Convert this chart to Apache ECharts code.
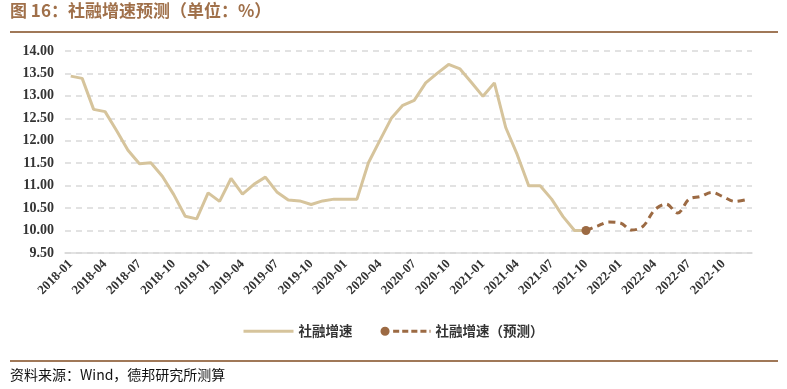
<!DOCTYPE html>
<html><head><meta charset="utf-8">
<script src="https://cdn.jsdelivr.net/npm/echarts@6/dist/echarts.min.js"></script>
<style>html,body{margin:0;padding:0;background:#fff}#c{width:787px;height:389px}</style>
</head><body><div id="c"></div>
<script>
var categories = [];
for (var y = 2018; y <= 2022; y++) { for (var m = 1; m <= 12; m++) { categories.push(y + '-' + (m < 10 ? '0' + m : m)); } }
var actualValues = [13.44,13.39,12.70,12.65,12.23,11.79,11.49,11.51,11.21,10.80,10.32,10.26,10.84,10.65,11.16,10.81,11.03,11.19,10.86,10.68,10.66,10.58,10.66,10.70,10.70,10.70,11.51,12.01,12.50,12.79,12.90,13.29,13.50,13.70,13.60,13.30,12.99,13.29,12.29,11.69,11.00,11.00,10.70,10.31,10.00,10.00];
var forecastStart = 45;
var forecastValues = [10.00,10.10,10.19,10.17,10.01,10.10,10.46,10.59,10.39,10.70,10.76,10.85,10.75,10.65,10.69];
var seriesNames = ['社融增速', '社融增速（预测）'];
var titleText = '图 16：社融增速预测（单位：%）';
var sourceText = '资料来源：Wind，德邦研究所测算';

var s1 = categories.map(function (c, i) { return i < actualValues.length ? actualValues[i] : null; });
var s2 = categories.map(function (c, i) {
  if (i < forecastStart) return null;
  var v = forecastValues[i - forecastStart];
  return i === forecastStart ? { value: v, symbol: 'circle', symbolSize: 9 } : { value: v, symbol: 'none' };
});

var solidIcon = 'path://M0,3.5 L50,3.5 L50,6.5 L0,6.5 Z';
var dashIcon = 'path://M0.5,5 A4.5,4.5 0 1,0 9.5,5 A4.5,4.5 0 1,0 0.5,5 Z M13,3.5 L19,3.5 L19,6.5 L13,6.5 Z M22,3.5 L28,3.5 L28,6.5 L22,6.5 Z M31,3.5 L37,3.5 L37,6.5 L31,6.5 Z M40,3.5 L46,3.5 L46,6.5 L40,6.5 Z M49,3.5 L50,3.5 L50,6.5 L49,6.5 Z';

var chart = echarts.init(document.getElementById('c'));
chart.setOption({
  animation: false,
  grid: { left: 65, right: 35, top: 51, bottom: 136 },
  graphic: [
    { type: 'text', left: 10, top: 2, style: { text: titleText, fill: '#a0704a', font: 'bold 17px "Noto Sans CJK SC"' } },
    { type: 'rect', shape: { x: 10, y: 31, width: 768, height: 2 }, style: { fill: '#a07858' } },
    { type: 'rect', shape: { x: 10, y: 360, width: 768, height: 2 }, style: { fill: '#a07858' } },
    { type: 'text', left: 10, top: 368, style: { text: sourceText, fill: '#111', font: '14px "Noto Sans CJK SC"' } }
  ],
  legend: {
    bottom: 46, left: 'center',
    itemWidth: 50, itemHeight: 10, itemGap: 28,
    textStyle: { fontFamily: 'Noto Sans CJK SC', fontWeight: 'bold', fontSize: 13.5, color: '#333' },
    data: [
      { name: seriesNames[0], icon: solidIcon },
      { name: seriesNames[1], icon: dashIcon }
    ]
  },
  xAxis: {
    type: 'category', data: categories, boundaryGap: true,
    axisLine: { lineStyle: { color: '#d9d9d9', width: 1.5 } },
    axisTick: { show: false },
    axisLabel: { interval: 2, rotate: 45, color: '#333', fontFamily: 'Liberation Serif', fontWeight: 'bold', fontSize: 13, margin: 9 }
  },
  yAxis: {
    type: 'value', min: 9.5, max: 14, interval: 0.5,
    axisLine: { show: false }, axisTick: { show: false },
    axisLabel: { formatter: function (v) { return v.toFixed(2); }, color: '#333', fontFamily: 'Liberation Serif', fontWeight: 'bold', fontSize: 14, margin: 11 },
    splitLine: { lineStyle: { color: '#d9d9d9', type: [6, 5], width: 1.5 } }
  },
  series: [
    { name: seriesNames[0], type: 'line', data: s1, symbol: 'none', connectNulls: false,
      lineStyle: { color: '#d6c49c', width: 3 }, itemStyle: { color: '#d6c49c' } },
    { name: seriesNames[1], type: 'line', data: s2, symbol: 'circle', symbolSize: 9, smooth: 0.35,
      lineStyle: { color: '#9c6a43', width: 3, type: [7, 5] }, itemStyle: { color: '#9c6a43' } }
  ]
});
</script></body></html>
